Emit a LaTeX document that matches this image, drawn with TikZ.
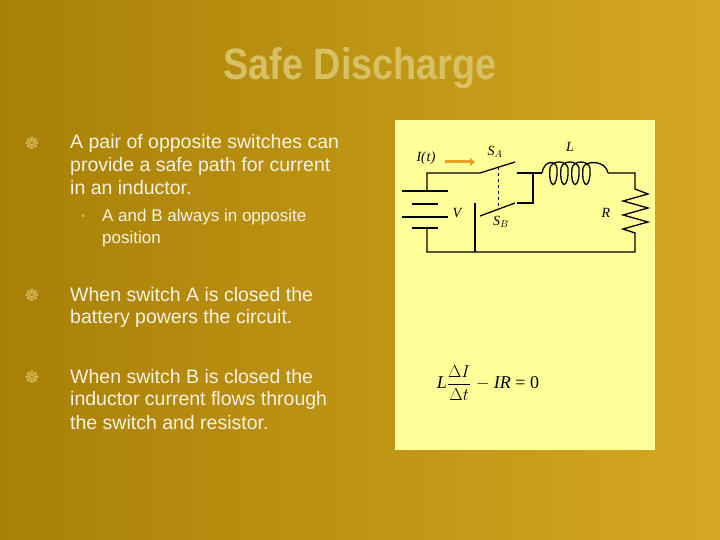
\documentclass[tikz,border=0pt]{standalone}
\usepackage{fontspec}
\setmainfont{Liberation Sans}
\newfontfamily\dejavu{DejaVu Sans}
\newfontfamily\serifm{Liberation Serif}
\usetikzlibrary{arrows.meta}
\definecolor{bgA}{HTML}{A88006}
\definecolor{bgB}{HTML}{D4A822}
\definecolor{titlec}{HTML}{D8C064}
\definecolor{txt}{HTML}{F6F2E2}
\definecolor{boxc}{HTML}{FFFF99}
\definecolor{arr}{HTML}{E8A020}
\tikzset{x=1pt,y=-1pt,
 body/.style={anchor=west,text=txt,font=\fontsize{19.5}{22.7}\selectfont,align=left,inner sep=0},
 bul/.style={anchor=center,text=titlec,font=\dejavu\fontsize{17}{17}\selectfont,inner sep=0},
 wire/.style={line width=1.3pt},
 lab/.style={font=\serifm\itshape\fontsize{14}{16}\selectfont,inner sep=0}}
\begin{document}
\begin{tikzpicture}
\useasboundingbox (0,0) rectangle (720,540);
\shade[left color=bgA,right color=bgB] (0,0) rectangle (720,540);
\foreach \a in {10,25,40,55,70,85,100}{\fill[white,opacity=0.06] (720,0) -- ++(180+\a:1100) -- ++(180+\a+3:1100) -- cycle;}
\foreach \a in {18,33,48,63}{\fill[black,opacity=0.07] (720,0) -- ++(180+\a:1100) -- ++(180+\a+2:1100) -- cycle;}
\node[text=titlec,font=\bfseries\fontsize{44}{48}\selectfont,xscale=0.86] (title) at (360,68) {Safe Discharge};
\node[bul] (b1) at (32,143) {☸};
\node[body] (t1) at (70,143) {A pair of opposite switches can};
\node[body] (t1b) at (70,166) {provide a safe path for current};
\node[body] (t1c) at (70,188) {in an inductor.};
\node[anchor=center,text=titlec,font=\fontsize{10}{11}\selectfont,inner sep=0] (b2) at (83,217) {•};
\node[body,font=\fontsize{17}{20}\selectfont] (t2) at (102,217) {A and B always in opposite};
\node[body,font=\fontsize{17}{20}\selectfont] (t2b) at (102,239) {position};
\node[bul] (b3) at (32,295) {☸};
\node[body] (t3) at (70,295) {When switch A is closed the};
\node[body] (t3b) at (70,318) {battery powers the circuit.};
\node[bul] (b4) at (32,377) {☸};
\node[body] (t4) at (70,377) {When switch B is closed the};
\node[body] (t4b) at (70,400) {inductor current  flows through};
\node[body] (t4c) at (70,423) {the switch and resistor.};
\fill[boxc] (395,120) rectangle (655,450);
% circuit
\draw[wire] (427,191) -- (427,173) -- (480,173) -- (515,162);
\draw[wire] (517,173) -- (533,173) -- (533,203) -- (517,203);
\draw[wire] (533,173) -- (542,173);
\draw[wire] (542,173) .. controls (544,160) and (556,160) .. (557,168) .. controls (558,190) and (548,190) .. (550,168)
 .. controls (552,160) and (566,160) .. (568,168) .. controls (569,190) and (559,190) .. (561,168)
 .. controls (563,160) and (577,160) .. (579,168) .. controls (580,190) and (570,190) .. (572,168)
 .. controls (574,160) and (588,160) .. (590,168) .. controls (591,190) and (581,190) .. (583,168)
 .. controls (585,160) and (606,160) .. (608,173);
\draw[wire] (608,173) -- (635,173) -- (635,189) -- (648,194) -- (623,201) -- (648,208) -- (623,215) -- (648,222) -- (623,229) -- (635,233) -- (635,252) -- (427,252) -- (427,228);
\draw[wire] (402,191) -- (448,191) (412,204) -- (438,204) (402,217) -- (448,217) (412,228) -- (438,228);
\draw[wire] (475,252) -- (475,203);
\draw[wire] (480,216) -- (515,203);
\draw[dashed,line width=1pt] (498,167) -- (498,209);
\draw[arr,line width=3pt,-{Triangle[length=5pt,width=8pt]}] (445,162) -- (475,162);
\node[lab] (I) at (426,158) {I(\textup{\textit{t}})};
\node[lab] (SA) at (495,152) {S$_A$};
\node[lab] (L) at (570,147) {L};
\node[lab] (V) at (457,213) {V};
\node[lab] (SB) at (501,222) {S$_B$};
\node[lab] (R) at (606,213) {R};
\node[font=\fontsize{18}{20}\selectfont] (eq) at (488,383) {\serifm\itshape L$\displaystyle\frac{\Delta I}{\Delta t}$\upshape\ $-$\ \itshape IR\upshape\ = 0};
\end{tikzpicture}
\end{document}
